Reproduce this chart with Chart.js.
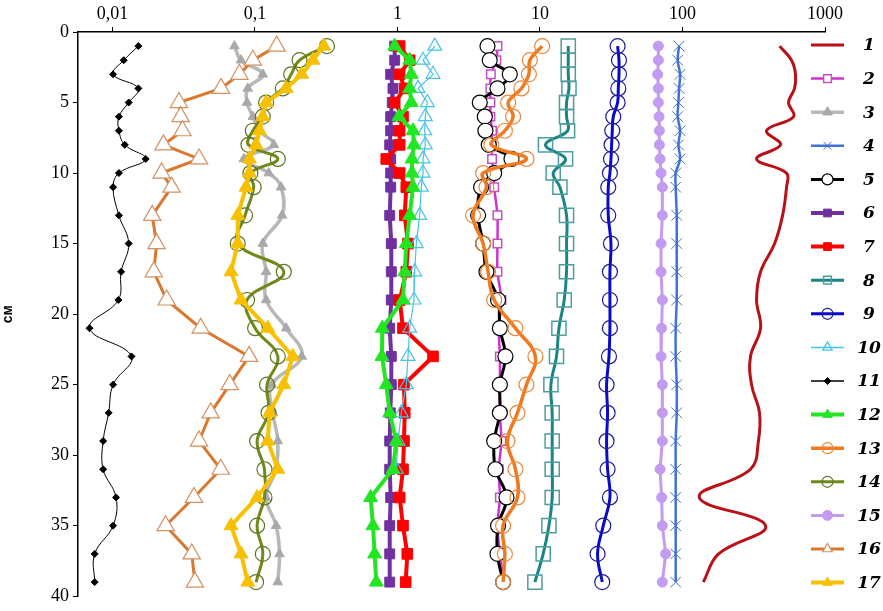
<!DOCTYPE html>
<html><head><meta charset="utf-8">
<script src="https://cdn.jsdelivr.net/npm/chart.js@4.4.1/dist/chart.umd.min.js"></script>
<style>html,body{margin:0;padding:0;background:#fff}canvas{display:block}</style>
</head><body>
<canvas id="c" width="883" height="611"></canvas>
<script>
// depths (cm)
const depths = [1,2,3,4,5,6,7,8,9,10,11,13,15,17,19,21,23,25,27,29,31,33,35,37,39];
const xTickValues = [0.01, 0.1, 1, 10, 100, 1000];
const xTickLabels = ['0,01', '0,1', '1', '10', '100', '1000'];
const yTickLabels = ['0','5','10','15','20','25','30','35','40'];
const seriesNames = ['1','2','3','4','5','6','7','8','9','10','11','12','13','14','15','16','17'];

const s1 = [480,582,621,611,555,602,389,488,331,537,537,504,443,353,331,353,300,305,347,341,300,131,383,179,140];
const s2 = [5.03,4.94,4.52,4.49,4.49,4.49,4.61,4.56,4.61,4.74,4.77,5.03,5.03,5.03,5.36,5.14,5.23,5.23,5.23,5.36,5.14,5.23,5.03,5.23,5.60];
const s3 = [0.0718,0.0798,0.1135,0.089,0.088,0.0966,0.1076,0.1356,0.0834,0.125,0.1525,0.155,0.1135,0.1197,0.1197,0.1655,0.213,0.131,0.1334,0.1446,0.140,0.1197,0.1408,0.1486,0.1446];
const s4 = [94.7,92.5,96.2,94.7,93.6,92.5,96.2,93.6,96.2,89.6,89.6,91.1,91.1,91.1,91.1,89.6,89.6,91.1,91.1,89.6,89.6,89.6,89.6,89.6,89.6];
const s5 = [4.28,4.44,6.14,5.03,3.78,4.10,4.14,4.37,6.31,4.77,3.86,3.68,3.99,4.21,5.08,5.23,5.72,5.23,5.23,4.77,4.87,5.82,5.08,5.03,5.51];
const s6 = [0.956,0.956,0.896,0.930,0.919,0.896,0.896,0.882,0.896,0.896,0.896,0.882,0.905,0.905,0.905,0.882,0.905,0.905,0.890,0.882,0.882,0.896,0.882,0.882,0.882];
const s7 = [1.036,1.218,1.036,1.124,0.956,1.093,1.036,1.036,0.834,1.036,1.153,1.124,1.185,1.153,1.036,1.093,1.776,1.111,1.124,1.111,1.093,1.036,1.093,1.172,1.142];
const s8 = [15.79,15.79,15.79,15.97,15.36,15.36,15.61,10.93,15.11,12.38,13.80,15.36,15.36,15.36,14.79,13.58,13.06,11.93,12.18,12.18,12.18,12.18,11.55,10.53,9.21];
const s9 = [35.05,35.84,35.84,35.45,35.05,32.68,32.16,31.81,31.49,30.96,30.13,30.13,31.49,30.96,30.96,30.96,30.49,29.32,29.81,29.32,29.81,30.96,27.81,25.35,27.35];
const s10 = [1.826,1.511,1.776,1.393,1.620,1.567,1.552,1.567,1.511,1.511,1.470,1.432,1.355,1.321,1.306,1.218,1.185,1.153,1.063,1.008,0.981];
const s11 = [0.0152,0.0120,0.0101,0.0152,0.0130,0.0111,0.0111,0.0122,0.0171,0.0111,0.0101,0.0111,0.0130,0.0115,0.0110,0.0069,0.0136,0.0101,0.0094,0.0086,0.0086,0.0106,0.0101,0.0075,0.0075];
const s12 = [0.956,1.218,1.250,1.218,1.250,1.024,1.285,1.306,1.264,1.264,1.285,1.218,1.153,1.124,1.093,0.782,0.778,0.834,0.882,0.981,0.930,0.648,0.673,0.691,0.710];
const s13 = [10.36,8.49,8.36,7.41,5.98,6.48,5.67,4.56,8.04,3.99,4.21,3.39,3.99,4.32,4.77,6.73,9.29,8.04,6.95,5.91,6.73,6.95,5.51,5.67,5.51];
const s14 = [0.320,0.2055,0.1794,0.1568,0.1197,0.1135,0.0966,0.090,0.1446,0.0929,0.098,0.0852,0.0757,0.1593,0.088,0.1002,0.1446,0.1216,0.1245,0.1035,0.1166,0.1166,0.1035,0.1135,0.1018];
const s15 = [67.7,67.7,66.95,67.7,67.7,68.5,68.8,68.8,69.6,70.7,72.2,72.2,70.7,70.7,72.2,71.4,70.7,72.2,72.2,72.2,69.6,71.4,72.2,76.2,72.2];
const s16 = [0.142,0.0966,0.0778,0.0578,0.0293,0.0301,0.0310,0.0228,0.0405,0.0221,0.0260,0.0190,0.0204,0.0195,0.0240,0.0416,0.0909,0.0665,0.0489,0.0405,0.0575,0.0373,0.0236,0.0360,0.0379];
const s17 = [0.304,0.255,0.213,0.1655,0.1197,0.1135,0.1076,0.1018,0.0915,0.0915,0.0866,0.0757,0.0757,0.0679,0.0798,0.123,0.1845,0.1593,0.1264,0.123,0.1446,0.1035,0.0679,0.0798,0.089];

const allSeries = [s1,s2,s3,s4,s5,s6,s7,s8,s9,s10,s11,s12,s13,s14,s15,s16,s17];

const T = 'rgba(255,255,255,0)';
const styleList = [
 {color:'#b81118', width:3, ps:'circle', r:0, fill:T, pb:T, pbw:0, tension:0.4},
 {color:'#cf33cf', width:2.5, ps:'rect', r:6, fill:'#fff', pb:'#c34fc3', pbw:1.5, tension:0.3},
 {color:'#b8b8b8', width:3.5, ps:'triangle', r:5.5, fill:'#a9a9a9', pb:'#a9a9a9', pbw:1, tension:0.4},
 {color:'#3f72d6', width:2.5, ps:'crossRot', r:7.5, fill:'#4a6fc0', pb:'#4a6fc0', pbw:1, tension:0.4},
 {color:'#000000', width:3, ps:'circle', r:7.5, fill:'#fff', pb:'#000', pbw:1.2, tension:0.4},
 {color:'#7030a0', width:4, ps:'rect', r:7, fill:'#7030a0', pb:'#7030a0', pbw:1, tension:0},
 {color:'#ff0000', width:4, ps:'rect', r:7.5, fill:'#ff0000', pb:'#ff0000', pbw:1, tension:0},
 {color:'#1a8585', width:3, ps:'rect', r:10, fill:T, pb:'#4e9d9d', pbw:1.5, tension:0.4},
 {color:'#0a0acc', width:3, ps:'circle', r:7.5, fill:T, pb:'#1a1a9a', pbw:1.2, tension:0.4},
 {color:'#45c3e8', width:1.2, ps:'triangle', r:8, fill:T, pb:'#45c3e8', pbw:1.2, tension:0},
 {color:'#000000', width:1, ps:'rectRot', r:3.5, fill:'#000', pb:'#000', pbw:1, tension:0.4},
 {color:'#22e622', width:4, ps:'triangle', r:8, fill:'#22e622', pb:'#22e622', pbw:1, tension:0},
 {color:'#f07a20', width:3.5, ps:'circle', r:7.5, fill:T, pb:'#e8883c', pbw:1.2, tension:0.4},
 {color:'#6f8a1a', width:3, ps:'circle', r:7.5, fill:T, pb:'#5f7420', pbw:1.2, tension:0.4},
 {color:'#c39bf0', width:3, ps:'circle', r:5, fill:'#c39bf0', pb:'#c39bf0', pbw:1, tension:0},
 {color:'#d9782e', width:3, ps:'triangle', r:10, fill:'#fff', pb:'#d49060', pbw:1.2, tension:0},
 {color:'#f7c000', width:4, ps:'triangle', r:8, fill:'#f7c000', pb:'#f7c000', pbw:1, tension:0}
];

const datasets = allSeries.map((vals, i) => {
  const st = styleList[i];
  return {
    label: seriesNames[i],
    data: vals.map((v, k) => ({x: v, y: depths[k]})),
    borderColor: st.color,
    borderWidth: st.width,
    backgroundColor: st.color,
    pointStyle: st.ps,
    pointRadius: st.r,
    pointBackgroundColor: st.fill,
    pointBorderColor: st.pb,
    pointBorderWidth: st.pbw,
    tension: st.tension,
    fill: false,
    order: 17 - i,
    clip: 12
  };
});

function drawMarker(ctx, st, x, y, r) {
  if (!r) return;
  ctx.save();
  ctx.fillStyle = st.fill; ctx.strokeStyle = st.pb; ctx.lineWidth = st.pbw;
  ctx.beginPath();
  if (st.ps === 'circle') { ctx.arc(x, y, r, 0, Math.PI*2); }
  else if (st.ps === 'rect') { const s = r*Math.SQRT1_2; ctx.rect(x-s, y-s, 2*s, 2*s); }
  else if (st.ps === 'triangle') {
    ctx.moveTo(x, y - r); ctx.lineTo(x + r*Math.sin(Math.PI*2/3), y + r*0.5);
    ctx.lineTo(x - r*Math.sin(Math.PI*2/3), y + r*0.5); ctx.closePath();
  }
  else if (st.ps === 'rectRot') { ctx.moveTo(x, y-r); ctx.lineTo(x+r, y); ctx.lineTo(x, y+r); ctx.lineTo(x-r, y); ctx.closePath(); }
  else if (st.ps === 'crossRot') {
    const d = r*Math.SQRT1_2;
    ctx.moveTo(x-d, y-d); ctx.lineTo(x+d, y+d); ctx.moveTo(x-d, y+d); ctx.lineTo(x+d, y-d);
    ctx.stroke(); ctx.restore(); return;
  }
  ctx.fill(); ctx.stroke();
  ctx.restore();
}

const legendPlugin = {
  id: 'customLegend',
  afterDraw(chart) {
    const ctx = chart.ctx;
    styleList.forEach((st, i) => {
      const y = 45 + i * 33.6;
      ctx.save();
      ctx.strokeStyle = st.color; ctx.lineWidth = Math.max(st.width, 1.5);
      ctx.beginPath(); ctx.moveTo(811, y); ctx.lineTo(844, y); ctx.stroke();
      ctx.restore();
      drawMarker(ctx, st, 827.5, y, st.r ? Math.min(st.r, 5.5) : 0);
      ctx.save();
      ctx.fillStyle = '#000';
      ctx.font = 'italic bold 17px "DejaVu Serif"';
      ctx.textAlign = 'center'; ctx.textBaseline = 'middle';
      ctx.fillText(seriesNames[i], 869, y + 1);
      ctx.restore();
    });
  }
};

const bgPlugin = {
  id: 'bg',
  beforeDraw(chart) {
    const ctx = chart.ctx; ctx.save(); ctx.fillStyle = '#fff';
    ctx.fillRect(0, 0, chart.width, chart.height); ctx.restore();
  }
};

new Chart(document.getElementById('c'), {
  type: 'line',
  data: { datasets },
  plugins: [bgPlugin, legendPlugin],
  options: {
    responsive: false,
    animation: false,
    indexAxis: 'y',
    layout: { padding: { left: 0, top: 0, right: 58, bottom: 13 } },
    plugins: { legend: { display: false }, tooltip: { enabled: false } },
    scales: {
      x: {
        type: 'logarithmic', position: 'top', min: 0.00573, max: 1000,
        afterFit(s) { s.height = 32; },
        afterBuildTicks(s) { s.ticks = xTickValues.map(v => ({value: v})); },
        ticks: {
          autoSkip: false, maxRotation: 0, padding: 2, color: '#000',
          font: { family: '"Liberation Serif"', size: 18 },
          callback(v) { const k = xTickValues.indexOf(v); return k >= 0 ? xTickLabels[k] : ''; }
        },
        grid: { display: true, drawOnChartArea: false, drawTicks: true, tickLength: 5, color: '#000', lineWidth: 1 },
        border: { display: true, color: '#000', width: 1.5 }
      },
      y: {
        type: 'linear', reverse: true, min: 0, max: 40,
        afterFit(s) { s.width = 78; },
        ticks: {
          stepSize: 5, padding: 4, color: '#000',
          font: { family: '"Liberation Serif"', size: 18 },
          callback(v) { return yTickLabels[Math.round(v / 5)]; }
        },
        title: { display: true, text: 'см', color: '#000', padding: { top: 0, bottom: 0 },
          font: { family: '"Liberation Sans"', size: 14, weight: 'bold' } },
        grid: { display: true, drawOnChartArea: false, drawTicks: true, tickLength: 5, color: '#000', lineWidth: 1 },
        border: { display: true, color: '#000', width: 1.5 }
      }
    }
  }
});
</script>
</body></html>
